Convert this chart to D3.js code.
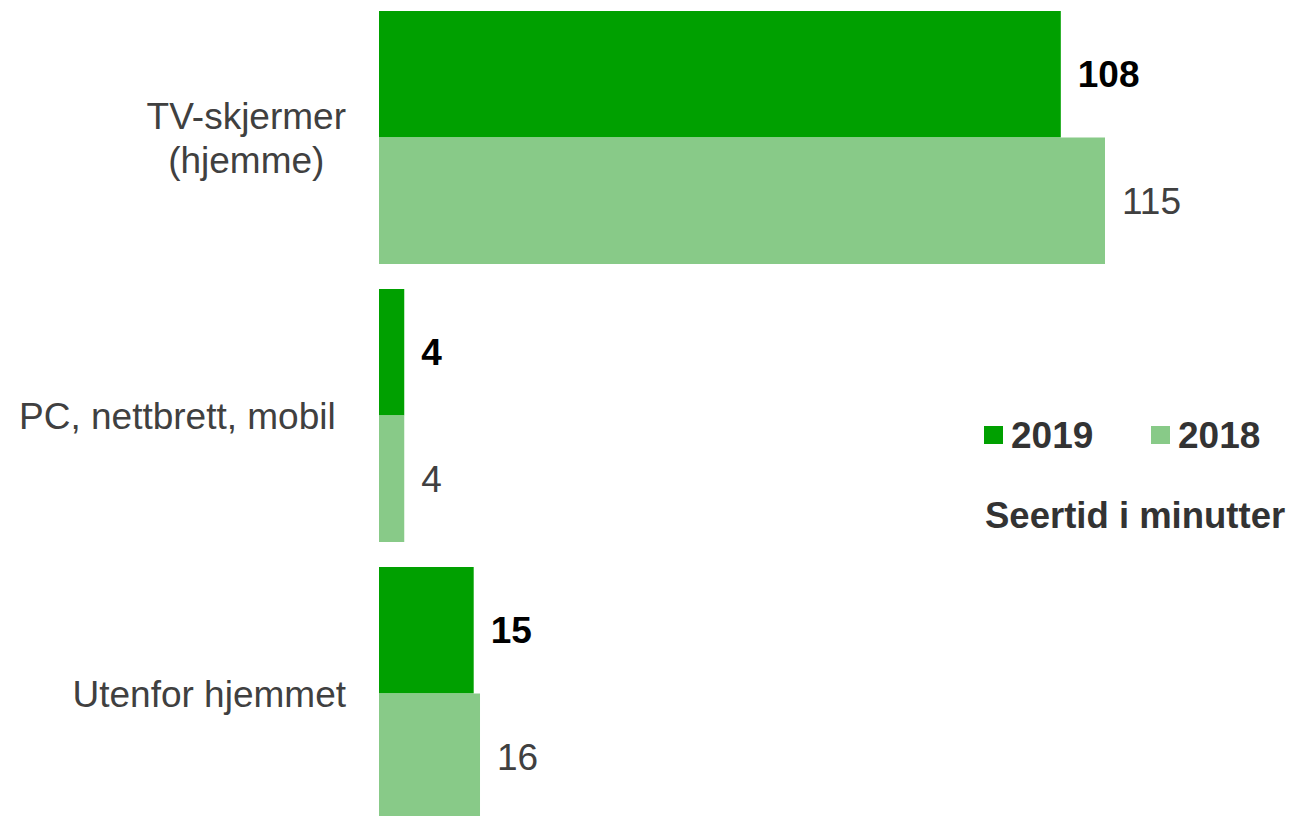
<!DOCTYPE html>
<html>
<head>
<meta charset="utf-8">
<script src="https://cdn.jsdelivr.net/npm/d3@7"></script>
<style>
    body { margin: 0; background: #fff; }
    svg text { font-family: "Liberation Sans", Arial, sans-serif; }
</style>
</head>
<body>
<div id="chart"></div>
<script>
// data
var categories = ["TV-skjermer\n(hjemme)", "PC, nettbrett, mobil\u00a0", "Utenfor hjemmet"];
var seriesNames = ["2019", "2018"];
var values2019 = [108, 4, 15];
var values2018 = [115, 4, 16];
var legendTitle = "Seertid i minutter";

var width = 1294, height = 816;
var colors = { "2019": "#00a000", "2018": "#88ca88" };
var padding = { top: 11, left: 379, labelRight: 346 };

var svg = d3.select("#chart")
    .append("svg")
    .attr("width", width)
    .attr("height", height);

var xScale = d3.scaleLinear()
    .domain([0, 115])
    .range([0, 726]);

var yScale = d3.scaleBand()
    .domain(categories)
    .range([padding.top, 820])
    .paddingInner(25 / 278)
    .paddingOuter(0);

var inner = d3.scaleBand()
    .domain(seriesNames)
    .range([0, yScale.bandwidth()]);

var rows = [];
for (var i = 0; i < categories.length; i++) {
    rows.push({ cat: categories[i], series: "2019", value: values2019[i] });
    rows.push({ cat: categories[i], series: "2018", value: values2018[i] });
}

// bars
svg.append("g")
    .selectAll("rect")
    .data(rows)
    .enter()
    .append("rect")
    .attr("x", padding.left)
    .attr("y", function(d) { return yScale(d.cat) + inner(d.series); })
    .attr("width", function(d) { return xScale(d.value); })
    .attr("height", inner.bandwidth())
    .attr("fill", function(d) { return colors[d.series]; });

// value labels
svg.append("g")
    .selectAll("text")
    .data(rows)
    .enter()
    .append("text")
    .attr("x", function(d) { return padding.left + xScale(d.value) + 17; })
    .attr("y", function(d) { return yScale(d.cat) + inner(d.series) + inner.bandwidth() / 2 + 13; })
    .attr("font-size", "37px")
    .attr("font-weight", function(d) { return d.series == "2019" ? "bold" : "normal"; })
    .attr("fill", function(d) { return d.series == "2019" ? "#000" : "#404040"; })
    .text(function(d) { return d.value; });

// category labels
var lineHeight = 44;
categories.forEach(function(cat) {
    var lines = cat.split("\n");
    var g = svg.append("g");
    var texts = g.selectAll("text")
        .data(lines)
        .enter()
        .append("text")
        .attr("font-size", "37px")
        .attr("fill", "#404040")
        .attr("text-anchor", "middle")
        .attr("y", function(d, k) {
            return yScale(cat) + yScale.bandwidth() / 2 + 13 + (k - (lines.length - 1) / 2) * lineHeight;
        })
        .text(function(d) { return d; });
    var maxW = 0;
    texts.each(function() { maxW = Math.max(maxW, this.getComputedTextLength()); });
    texts.attr("x", padding.labelRight - maxW / 2);
});

// legend
var legend = svg.append("g").attr("transform", "translate(984,426)");
var legendX = [0, 167];
seriesNames.forEach(function(s, i) {
    legend.append("rect")
        .attr("x", legendX[i])
        .attr("y", 0)
        .attr("width", 19)
        .attr("height", 18)
        .attr("fill", colors[s]);
    legend.append("text")
        .attr("x", legendX[i] + 27)
        .attr("y", 22)
        .attr("font-size", "37px")
        .attr("font-weight", "bold")
        .attr("fill", "#333")
        .text(s);
});
legend.append("text")
    .attr("x", 1)
    .attr("y", 102)
    .attr("font-size", "36.5px")
    .attr("font-weight", "bold")
    .attr("fill", "#333")
    .text(legendTitle);
</script>
</body>
</html>
